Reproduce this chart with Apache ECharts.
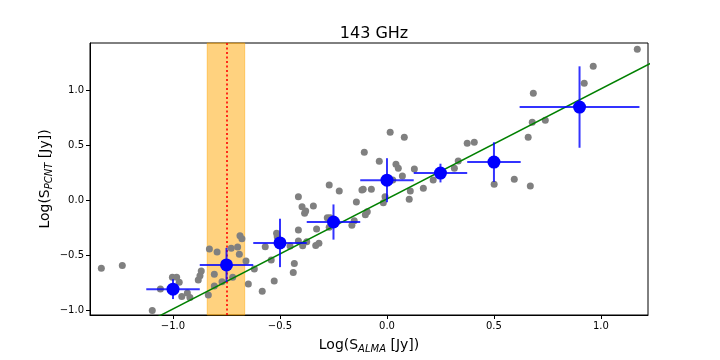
<!DOCTYPE html>
<html>
<head>
<meta charset="utf-8">
<script src="https://cdn.jsdelivr.net/npm/echarts@6/dist/echarts.min.js"></script>
<style>html,body{margin:0;padding:0;background:#fff}#c{width:720px;height:360px}</style>
</head>
<body>
<div id="c"></div>
<script>
// ---- data ----
const titleText = '143 GHz';
const xTicks = [-1.0, -0.5, 0.0, 0.5, 1.0];
const yTicks = [-1.0, -0.5, 0.0, 0.5, 1.0];

const grayX = [-1.335,-1.237,-1.097,-1.059,-1.003,-0.983,-0.971,-0.959,-0.933,-0.921,-0.882,-0.874,-0.868,-0.835,-0.830,-0.794,-0.807,-0.807,-0.771,-0.728,-0.698,-0.721,
  -0.690,-0.687,-0.678,-0.659,-0.648,-0.620,-0.583,-0.541,-0.569,-0.527,-0.516,-0.513,-0.453,-0.433,-0.438,-0.414,-0.414,-0.394,-0.414,-0.397,-0.385,-0.380,-0.344,-0.329,-0.375,-0.333,-0.318,-0.279,-0.266,-0.270,
  -0.270,-0.223,-0.164,-0.153,-0.143,-0.106,-0.117,-0.111,-0.073,-0.101,-0.092,-0.036,0.015,0.081,0.042,0.053,-0.017,-0.009,0.027,0.072,0.128,0.109,0.104,0.170,0.216,
  0.315,0.333,0.375,0.408,0.501,0.595,0.670,0.660,0.679,0.740,0.684,0.922,0.964,1.170];
const grayY = [-0.621,-0.594,-1.003,-0.809,-0.703,-0.703,-0.748,-0.876,-0.845,-0.885,-0.727,-0.688,-0.645,-0.864,-0.445,-0.473,-0.675,-0.782,-0.742,-0.439,-0.427,-0.703,
  -0.494,-0.325,-0.352,-0.555,-0.764,-0.627,-0.830,-0.545,-0.424,-0.736,-0.303,-0.333,-0.418,-0.576,-0.658,-0.273,-0.373,-0.415,0.030,-0.061,-0.121,-0.100,-0.055,-0.264,-0.379,-0.414,-0.394,-0.161,-0.161,-0.248,
  0.136,0.082,-0.230,-0.188,-0.018,0.433,0.091,0.097,0.097,-0.133,-0.106,0.352,0.615,0.570,0.324,0.288,-0.024,0.030,0.182,0.218,0.282,0.082,0.006,0.106,0.182,
  0.288,0.355,0.515,0.524,0.143,0.188,0.127,0.570,0.706,0.724,0.970,1.061,1.215,1.370];

const binX    = [-1.0, -0.75, -0.5, -0.25, 0.0, 0.25, 0.5, 0.9];
const binY    = [-0.81, -0.59, -0.39, -0.20, 0.18, 0.245, 0.345, 0.845];
const binXErr = [0.125, 0.125, 0.125, 0.125, 0.125, 0.125, 0.125, 0.28];
const binYErr = [0.09, 0.155, 0.22, 0.16, 0.20, 0.085, 0.18, 0.37];

const fitX = [-1.45, 1.30];
const fitY = [-1.44, 1.31];

const bandRange = [-0.84, -0.665];
const medianX = -0.75;

// ---- chart ----
const font = 'DejaVu Sans';
const fmt = v => (v < 0 ? '\u2212' : '') + Math.abs(v).toFixed(1);
const chart = echarts.init(document.getElementById('c'), null, {renderer: 'canvas'});

const scatterData = grayX.map((x, i) => [x, grayY[i]]);
const binData = binX.map((x, i) => [x, binY[i], binXErr[i], binYErr[i]]);
const fitData = fitX.map((x, i) => [x, fitY[i]]);

const ebColor = 'rgba(0,0,255,0.8)';
const nameRich = {
  n: {fontFamily: font, fontSize: 14, color: '#000', lineHeight: 16},
  s: {fontFamily: font, fontSize: 10, fontStyle: 'italic', color: '#000', verticalAlign: 'bottom', lineHeight: 10, padding: [0, 0, -1, 0]}
};

chart.setOption({
  animation: false,
  backgroundColor: '#fff',
  title: {
    text: titleText, left: 369, top: 21, textAlign: 'center',
    textStyle: {fontFamily: font, fontSize: 16, fontWeight: 'normal', color: '#000'}
  },
  grid: {left: 90, right: 72, top: 43, bottom: 45, outerBoundsMode: 'none', containLabel: false,
    show: true, borderColor: '#000', borderWidth: 1, backgroundColor: 'transparent'},
  xAxis: {
    type: 'value', min: -1.388, max: 1.22,
    splitLine: {show: false},
    axisLine: {show: true, onZero: false, lineStyle: {color: '#000', width: 1}},
    axisTick: {show: true, length: 4, lineStyle: {color: '#000'}, customValues: xTicks},
    axisLabel: {color: '#000', fontFamily: font, fontSize: 10, margin: 6, customValues: xTicks, formatter: fmt},
    name: '{n|Log(S}{s|ALMA}{n| [Jy])}',
    nameLocation: 'middle', nameGap: 22, nameMoveOverlap: false,
    nameTextStyle: {rich: nameRich}
  },
  yAxis: {
    type: 'value', min: -1.045, max: 1.427,
    splitLine: {show: false},
    axisLine: {show: true, onZero: false, lineStyle: {color: '#000', width: 1}},
    axisTick: {show: true, length: 4, lineStyle: {color: '#000'}, customValues: yTicks},
    axisLabel: {color: '#000', fontFamily: font, fontSize: 10, margin: 6, customValues: yTicks, formatter: fmt},
    name: '{n|Log(S}{s|PCNT}{n| [Jy])}',
    nameLocation: 'middle', nameGap: 37, nameRotate: 90, nameMoveOverlap: false,
    nameTextStyle: {rich: nameRich}
  },
  series: [
    {
      type: 'line', data: [], z: 1, silent: true,
      markArea: {
        silent: true,
        itemStyle: {color: 'rgba(255,165,0,0.5)', borderColor: 'rgba(255,165,0,0.5)', borderWidth: 1},
        data: [[{xAxis: bandRange[0]}, {xAxis: bandRange[1]}]]
      },
      markLine: {
        silent: true, symbol: 'none', label: {show: false},
        lineStyle: {color: '#ff0000', width: 1.6, type: [2, 2.5]},
        data: [{xAxis: medianX}]
      }
    },
    {
      type: 'scatter', data: scatterData, z: 3, symbolSize: 7,
      itemStyle: {color: '#808080', opacity: 1}
    },
    {
      type: 'line', data: fitData, z: 4, showSymbol: false, clip: true,
      lineStyle: {color: '#008000', width: 1.5}
    },
    {
      type: 'custom', data: binData, z: 5, clip: true,
      renderItem: function (params, api) {
        const x = api.value(0), y = api.value(1), xe = api.value(2), ye = api.value(3);
        const l = api.coord([x - xe, y]), r = api.coord([x + xe, y]);
        const t = api.coord([x, y + ye]), b = api.coord([x, y - ye]);
        return {
          type: 'group',
          children: [
            {type: 'line', shape: {x1: l[0], y1: l[1], x2: r[0], y2: r[1]}, style: {stroke: ebColor, lineWidth: 2}},
            {type: 'line', shape: {x1: t[0], y1: t[1], x2: b[0], y2: b[1]}, style: {stroke: ebColor, lineWidth: 2}}
          ]
        };
      }
    },
    {
      type: 'scatter', data: binData.map(d => [d[0], d[1]]), z: 6, symbolSize: 13,
      itemStyle: {color: '#0000ff', opacity: 1}
    }
  ]
});
</script>
</body>
</html>
